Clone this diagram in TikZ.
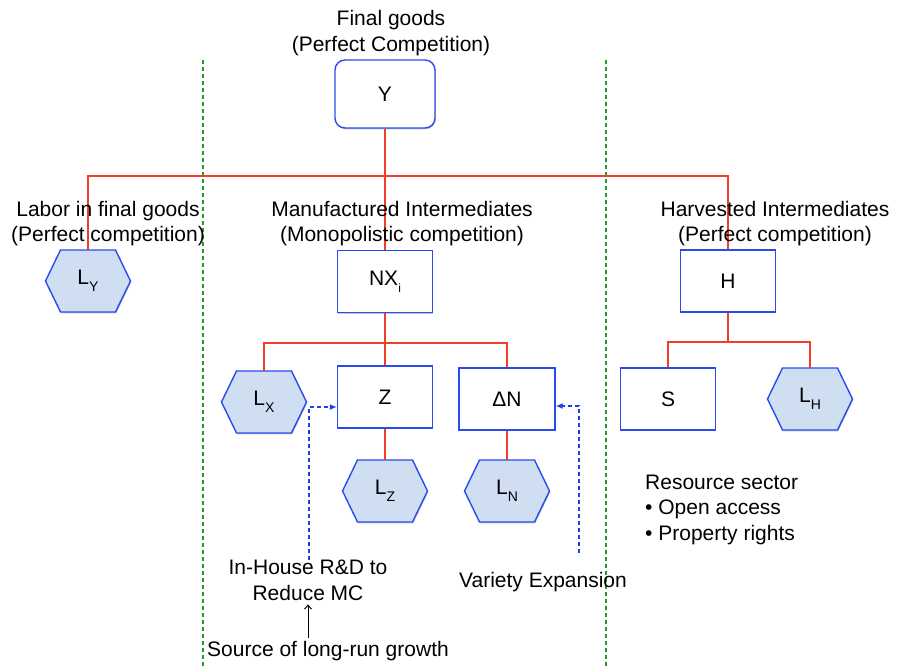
\documentclass[tikz,border=0pt]{standalone}
\usepackage{fontspec}
\setmainfont{Liberation Sans}
\usetikzlibrary{arrows.meta,shadows}

\definecolor{boxblue}{RGB}{40,75,240}
\definecolor{hexfill}{RGB}{207,223,241}
\definecolor{treered}{RGB}{240,62,40}
\definecolor{guidegreen}{RGB}{40,150,40}
\definecolor{arrowblue}{RGB}{30,60,240}

% subscript set in the text font
\newcommand\lsub[1]{\raisebox{-0.32em}{\fontsize{14}{14}\selectfont #1}}

% hexagon cell: name, x, y, label
\newcommand\hexcell[4]{%
  \path[hexshape, shift={(#2,#3)}]
    (-42.5,0) -- (-27.5,-31) -- (27.5,-31) -- (42.5,0) -- (27.5,31) -- (-27.5,31) -- cycle;
  \node[hexlabel] (#1) at (#2,#3) {#4};%
}

\tikzset{
  softshadow/.style={drop shadow={shadow xshift=0.8pt, shadow yshift=-1.3pt, fill=black, opacity=0.22}},
  box/.style={draw=boxblue, line width=1.4pt, fill=white, minimum width=95pt, minimum height=62pt,
    inner sep=0pt, softshadow},
  topbox/.style={box, rounded corners=10pt, minimum width=100pt, minimum height=68pt},
  hexshape/.style={draw=boxblue, line width=1.4pt, fill=hexfill, line join=miter, softshadow},
  hexlabel/.style={minimum width=85pt, minimum height=62pt, inner sep=0pt},
  tree/.style={draw=treered, line width=1.5pt},
  guide/.style={draw=guidegreen, line width=1.1pt, dash pattern=on 4pt off 3pt},
  feed/.style={draw=arrowblue, line width=1.2pt, dash pattern=on 4pt off 3pt,
    -{Latex[length=7pt,width=6pt]}},
  cause/.style={draw=black, line width=1pt, -{Straight Barb[length=4pt,width=7pt]}},
  caption/.style={anchor=base, align=center, inner sep=0pt},
}

\begin{document}
\begin{tikzpicture}[x=1pt, y=-1pt, font=\fontsize{21}{25.5}\selectfont]
\useasboundingbox (0,0) rectangle (898,669);

% sector dividers
\draw[guide] (203,60) -- (203,669);
\draw[guide] (606,60) -- (606,669);

% level 0
\node[topbox] (Y) at (385,94) {Y};

% level 1
\hexcell{LY}{88}{281}{L\lsub{Y}}
\node[box] (NX) at (385,281.5) {NX\lsub{\fontsize{12}{12}\selectfont i}};
\node[box] (H) at (728,281) {H};

% level 2
\hexcell{LX}{264}{402}{L\lsub{X}}
\node[box] (Z) at (385,397) {Z};
\node[box, minimum width=96pt] (DN) at (507,399) {ΔN};
\node[box] (S) at (668,399) {S};
\hexcell{LH}{810}{399}{L\lsub{H}}

% level 3
\hexcell{LZ}{385}{491}{L\lsub{Z}}
\hexcell{LN}{507}{491}{L\lsub{N}}

% tree connectors
\coordinate (bus1) at (385,176);
\coordinate (bus2) at (385,343);
\coordinate (bus3) at (728,342);
\draw[tree] (Y.south) -- (NX.north);
\draw[tree] (LY.north) |- (bus1) -| (H.north);
\draw[tree] (NX.south) -- (Z.north);
\draw[tree] (LX.north) |- (bus2) -| (DN.north);
\draw[tree] (Z.south) -- (LZ.north);
\draw[tree] (DN.south) -- (LN.north);
\draw[tree] (H.south) -- (bus3);
\draw[tree] (S.north) |- (bus3) -| (LH.north);

% sector captions (base = last line)
\node[caption] (cfinal) at (391,51.5) {Final goods\\(Perfect Competition)};
\node[caption] (clabor) at (108,241.5) {Labor in final goods\\(Perfect competition)};
\node[caption] (cmanu) at (402,241.5) {Manufactured Intermediates\\(Monopolistic competition)};
\node[caption] (charv) at (775,241.5) {Harvested Intermediates\\(Perfect competition)};

% resource sector notes
\node[anchor=base west, align=left, inner sep=0pt] (res) at (645,540)
  {Resource sector\\• Open access\\• Property rights};

% R&D and variety expansion
\node[caption] (rd) at (308,600) {In-House R\&D to\\Reduce MC};
\node[caption] (var) at (543,587) {Variety Expansion};
\node[caption] (src) at (328,656) {Source of long-run growth};

\coordinate (rdfoot) at (309,560);
\coordinate (varfoot) at (579,553);
\draw[feed] (rdfoot) |- ([yshift=-10pt]Z.west);
\draw[feed] (varfoot) |- ([yshift=-7pt]DN.east);
\draw[cause] ([yshift=3pt]src.north -| rd.south) -- ([yshift=-4pt]rd.south);
\end{tikzpicture}
\end{document}
